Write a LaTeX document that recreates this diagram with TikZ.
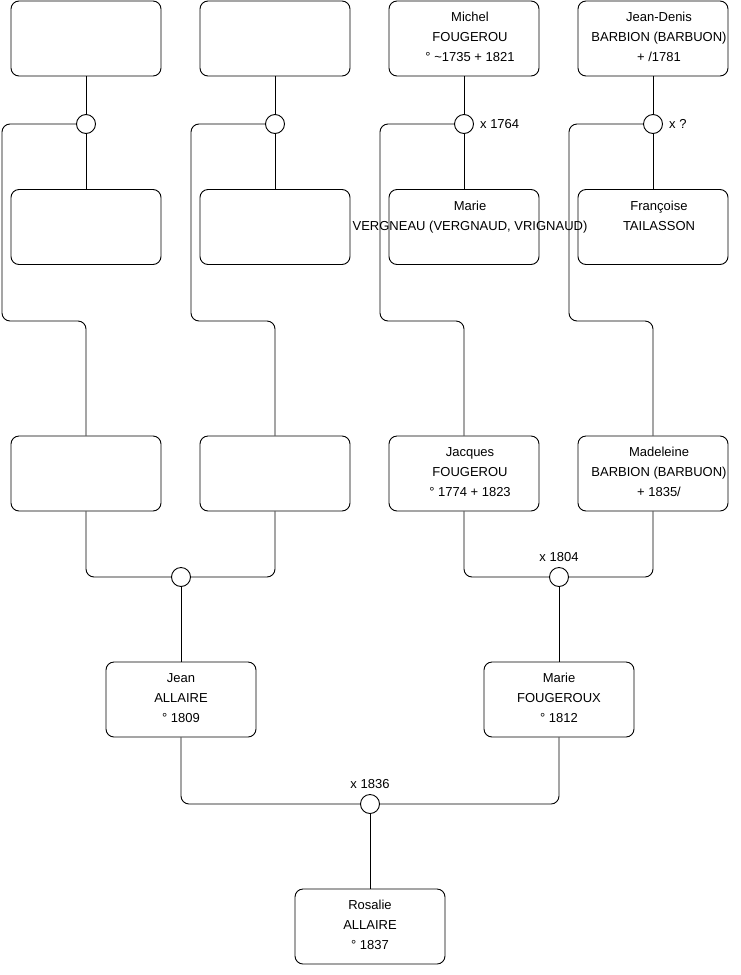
\documentclass[tikz,border=0pt]{standalone}
\usepackage{fontspec}
\setmainfont{Liberation Sans}
\usetikzlibrary{positioning}
\newcommand{\nudge}{\hspace*{12pt}}

\begin{document}
\begin{tikzpicture}[x=1pt, y=-1pt,
  person/.style={draw, rounded corners=8pt, minimum width=150pt, minimum height=75pt, inner sep=0pt,
                 align=center, text height=50pt, text depth=3.6pt, font=\fontsize{13}{20}\selectfont, line width=0.9pt},
  union/.style={draw, circle, minimum size=19pt, inner sep=0pt, line width=0.9pt, fill=white},
  lbl/.style={inner sep=0pt, font=\fontsize{13}{16}\selectfont},
  link/.style={line width=0.9pt, rounded corners=8pt}
]
\useasboundingbox (0,0) rectangle (740,975);

% grandparents' parents
\node[person] (gp1) at (86,38.5)  {};
\node[person] (gp2) at (275,38.5) {};
\node[person] (gp3) at (464,38.5) {\nudge Michel\\\nudge FOUGEROU\\\nudge ° \textasciitilde1735 + 1821};
\node[person] (gp4) at (653,38.5) {\nudge Jean-Denis\\\nudge BARBION (BARBUON)\\\nudge + /1781};

\node[union] (u1) at (86,124)  {};
\node[union] (u2) at (275,124) {};
\node[union] (u3) at (464,124) {};
\node[union] (u4) at (653,124) {};
\node[lbl, right=6pt of u3] (m3) {x 1764};
\node[lbl, right=6pt of u4] (m4) {x ?};

\node[person] (gm1) at (86,227)  {};
\node[person] (gm2) at (275,227) {};
\node[person] (gm3) at (464,227) {\nudge Marie\\\makebox[0pt]{\nudge VERGNEAU (VERGNAUD, VRIGNAUD)}\\\mbox{}};
\node[person] (gm4) at (653,227) {\nudge Françoise\\\nudge TAILASSON\\\mbox{}};

% grandparents
\node[person] (p1) at (86,473.5)  {};
\node[person] (p2) at (275,473.5) {};
\node[person] (p3) at (464,473.5) {\nudge Jacques\\\nudge FOUGEROU\\\nudge ° 1774 + 1823};
\node[person] (p4) at (653,473.5) {\nudge Madeleine\\\nudge BARBION (BARBUON)\\\nudge + 1835/};

\node[union] (u5) at (181,577) {};
\node[union] (u6) at (559,577) {};
\node[lbl, above=5pt of u6] (m6) {x 1804};

% parents
\node[person] (jean)  at (181,699.5) {Jean\\ALLAIRE\\° 1809};
\node[person] (marie) at (559,699.5) {Marie\\FOUGEROUX\\° 1812};

\node[union] (u7) at (370,804) {};
\node[lbl, above=5pt of u7] (m7) {x 1836};

\node[person] (rosalie) at (370,926.5) {Rosalie\\ALLAIRE\\° 1837};

% bends of the long lines
\coordinate (k1) at (2,321);
\coordinate (k2) at (191,321);
\coordinate (k3) at (380,321);
\coordinate (k4) at (569,321);

\foreach \i in {1,...,4} {
  \draw[link] (gp\i) -- (u\i);
  \draw[link] (u\i) -- (gm\i);
  \draw[link] (u\i.west) -| (k\i) -| (p\i);
}

\draw[link] (p1) |- (u5);
\draw[link] (p2) |- (u5);
\draw[link] (u5) -- (jean);
\draw[link] (p3) |- (u6);
\draw[link] (p4) |- (u6);
\draw[link] (u6) -- (marie);
\draw[link] (jean) |- (u7);
\draw[link] (marie) |- (u7);
\draw[link] (u7) -- (rosalie);
\end{tikzpicture}
\end{document}
